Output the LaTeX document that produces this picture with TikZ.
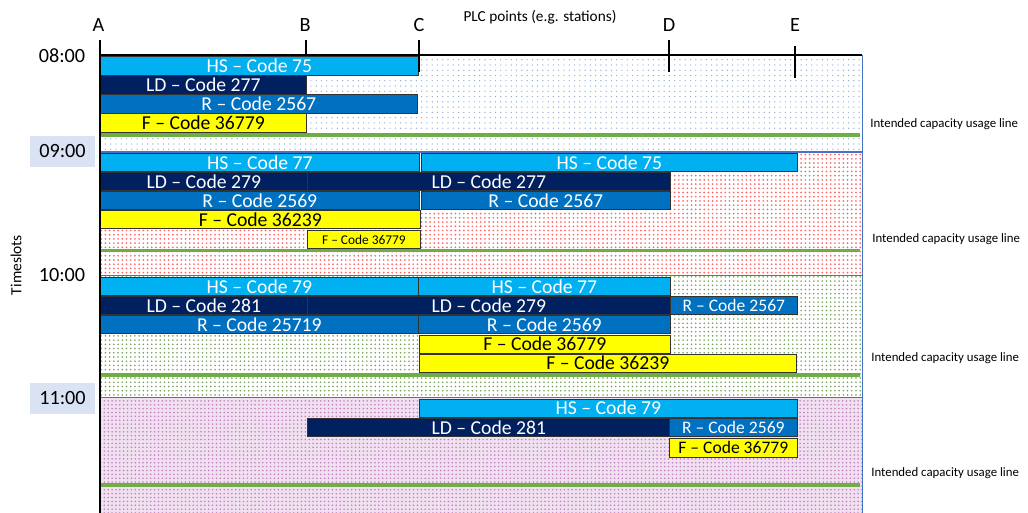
\documentclass[tikz,border=0pt]{standalone}
\usepackage{fontspec}
\setmainfont{Carlito}
\usepackage{xcolor}
\usepackage{tikz}
\usetikzlibrary{patterns.meta}

\definecolor{hsblue}{HTML}{00B0F0}
\definecolor{ldnavy}{HTML}{002060}
\definecolor{rblue}{HTML}{0070C0}
\definecolor{fyellow}{HTML}{FFFF00}
\definecolor{capgreen}{HTML}{70AD47}
\definecolor{slotbg}{HTML}{DAE3F3}
\definecolor{slotedge}{HTML}{4472C4}

\newcommand{\barfont}{\fontsize{11.2}{13}\selectfont}
\newcommand{\smallbarfont}{\fontsize{10}{12}\selectfont}
\newcommand{\tinybarfont}{\fontsize{7.6}{9}\selectfont}

\begin{document}
\begin{tikzpicture}[
    x=0.02cm, y=-0.02cm,
    bar/.style={draw=black!80, line width=0.4pt, anchor=north west, inner sep=0pt,
                minimum height=0.37cm, font=\barfont},
    barw/.style={minimum width=#1*0.02cm},
    hs/.style={bar, fill=hsblue, text=white},
    ld/.style={bar, fill=ldnavy, text=white},
    rr/.style={bar, fill=rblue, text=white},
    ff/.style={bar, fill=fyellow, text=black},
    slotbox/.style={draw=slotedge, line width=0.5pt},
    capline/.style={capgreen, line width=2.2pt},
    axis/.style={black, line width=1.7pt},
    tick/.style={black, line width=1.1pt},
    point/.style={font=\fontsize{11.5}{13}\selectfont},
    timelbl/.style={font=\fontsize{11.5}{13}\selectfont, inner sep=0pt},
    caplabel/.style={anchor=west, font=\fontsize{7.3}{9}\selectfont, inner sep=0pt}
]
\clip (0,0) rectangle (1028,513);

% Timeslot backgrounds
\path[slotbox, pattern={Dots[distance=3pt, radius=0.4pt]}, pattern color=slotedge!60]
    (100,55) rectangle (862,151.5);
\path[slotbox, pattern={Dots[distance=2.4pt, radius=0.55pt]}, pattern color=red!60]
    (100,152.5) rectangle (862,275);
\path[slotbox, pattern={Dots[distance=2.4pt, radius=0.5pt]}, pattern color=capgreen!70!gray]
    (100,275) rectangle (862,397.5);
\path[slotbox, preaction={fill=violet!12}, pattern={Dots[distance=2.2pt, radius=0.5pt]},
      pattern color=violet!50]
    (100,397.5) rectangle (862,520);

% Intended capacity usage lines
\draw[capline] (100,135) -- (860,135);
\draw[capline] (100,250.5) -- (860,250.5);
\draw[capline] (100,375) -- (860,375);
\draw[capline] (100,485) -- (860,485);

% 08:00
\node[hs, barw=318] (hs75a)    at (100,56.5)  {HS -- Code 75};
\node[ld, barw=206] (ld277a)   at (100,75.5)  {LD -- Code 277};
\node[rr, barw=317] (r2567a)   at (100,94.5)  {R -- Code 2567};
\node[ff, barw=206] (f36779a)  at (100,113.5) {F -- Code 36779};

% 09:00
\node[hs, barw=319] (hs77a)    at (100,153)   {HS -- Code 77};
\node[hs, barw=376] (hs75b)    at (421,153)   {HS -- Code 75};
\node[ld, barw=207] (ld279a)   at (100,172)   {LD -- Code 279};
\node[ld, barw=363] (ld277b)   at (307,172)   {LD -- Code 277};
\node[rr, barw=319] (r2569a)   at (100,191)   {R -- Code 2569};
\node[rr, barw=249] (r2567b)   at (421,191)   {R -- Code 2567};
\node[ff, barw=320] (f36239a)  at (100,210)   {F -- Code 36239};
\node[ff, barw=113, font=\tinybarfont] (f36779b) at (307,230) {F -- Code 36779};

% 10:00
\node[hs, barw=318] (hs79a)    at (100,277)   {HS -- Code 79};
\node[hs, barw=252] (hs77b)    at (418,277)   {HS -- Code 77};
\node[ld, barw=207] (ld281a)   at (100,296)   {LD -- Code 281};
\node[ld, barw=363] (ld279b)   at (307,296)   {LD -- Code 279};
\node[rr, barw=127, font=\smallbarfont] (r2567c) at (670,296) {R -- Code 2567};
\node[rr, barw=318] (r25719a)  at (100,315)   {R -- Code 25719};
\node[rr, barw=252] (r2569b)   at (418,315)   {R -- Code 2569};
\node[ff, barw=251] (f36779c)  at (419,334.5) {F -- Code 36779};
\node[ff, barw=377] (f36239b)  at (419,353.5) {F -- Code 36239};

% 11:00
\node[hs, barw=378] (hs79b)    at (419,398.5) {HS -- Code 79};
\node[ld, barw=363] (ld281b)   at (307,418)   {LD -- Code 281};
\node[rr, barw=128, font=\smallbarfont] (r2569c)  at (669,418)   {R -- Code 2569};
\node[ff, barw=128, font=\smallbarfont, minimum height=0.4cm] (f36779d) at (669,437.5) {F -- Code 36779};

% Axes and PLC points
\draw[axis] (100,53) -- (100,513);
\draw[axis] (99,55) -- (862,55);
\draw[tick] (100,40) -- (100,55);
\draw[tick] (306,40) -- (306,55);
\draw[tick] (419,40) -- (419,72);
\draw[tick] (669,40) -- (669,72);
\draw[tick] (795,46) -- (795,78);

\node[point] (ptA) at (98.5,25.5) {A};
\node[point] (ptB) at (305,25.5)  {B};
\node[point] (ptC) at (419,25.5)  {C};
\node[point] (ptD) at (669,25)    {D};
\node[point] (ptE) at (795,25)    {E};
\node[font=\fontsize{8.7}{10}\selectfont] (plc) at (540,17) {PLC points (e.g. stations)};

% Time labels
\node[timelbl] (t08) at (62,56) {08:00};
\node[timelbl, fill=slotbg, minimum width=1.3cm, minimum height=0.62cm] (t09) at (62.5,151.5) {09:00};
\node[timelbl] (t10) at (62,275.5) {10:00};
\node[timelbl, fill=slotbg, minimum width=1.3cm, minimum height=0.62cm] (t11) at (62.5,398.5) {11:00};
\node[rotate=90, font=\fontsize{8.8}{10}\selectfont] (tslots) at (16,265) {Timeslots};

% Side labels
\node[caplabel] (cap1) at (870,124) {Intended capacity usage line};
\node[caplabel] (cap2) at (872,239) {Intended capacity usage line};
\node[caplabel] (cap3) at (871,358) {Intended capacity usage line};
\node[caplabel] (cap4) at (871,473) {Intended capacity usage line};

\end{tikzpicture}
\end{document}
